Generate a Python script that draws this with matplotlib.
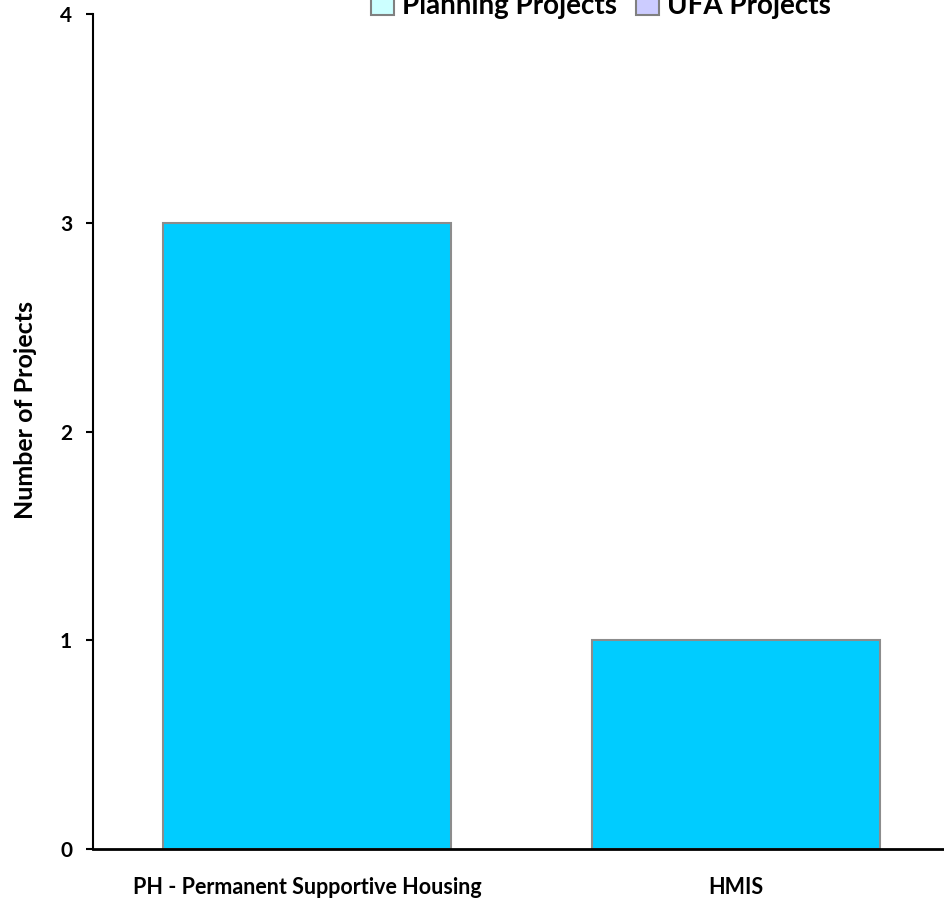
import matplotlib
matplotlib.use("Agg")
import matplotlib.pyplot as plt
from matplotlib.patches import Patch

categories = ["PH - Permanent Supportive Housing", "HMIS"]
values = [3, 1]
legend_labels = ["Planning Projects", "UFA Projects"]
legend_colors = ["#CCFFFF", "#CCCCFF"]
yticks = [0, 1, 2, 3, 4]

plt.rcParams['font.family'] = ['Lato', 'DejaVu Sans']

fig = plt.figure(figsize=(9.44, 9.01), dpi=100)
ax = fig.add_axes([93/944, 1-849/901, (950-93)/944, (849-14)/901])

x = list(range(len(categories)))
ax.bar(x, values, width=0.673, color="#00CCFF", edgecolor="#8C8C8C", linewidth=1.5, zorder=2)

ax.set_xlim(-0.5, 1.5)
ax.set_ylim(0, 4)
ax.set_yticks(yticks)
ax.set_yticklabels([str(t) for t in yticks], fontsize=15, fontweight='bold')
ax.set_xticks(x)
ax.set_xticklabels(categories, fontsize=15.5, fontweight='bold')
ax.tick_params(axis='x', length=0, pad=20)
ax.tick_params(axis='y', length=5, width=1.5, pad=10, direction='out')
ax.spines['top'].set_visible(False)
ax.spines['right'].set_visible(False)
ax.spines['left'].set_linewidth(1.5)
ax.spines['bottom'].set_linewidth(2)
ax.set_ylabel("Number of Projects", fontsize=18, fontweight='bold')
ax.yaxis.set_label_coords(-0.065, 0.526)

handles = [Patch(facecolor=c, edgecolor="#808080", linewidth=1.5, label=l)
           for c, l in zip(legend_colors, legend_labels)]
fig.legend(handles=handles, loc='center', bbox_to_anchor=(601/944, 1-6/901), ncol=2,
           frameon=False, prop={'size': 20, 'weight': 'bold'},
           handlelength=0.8, handleheight=0.8, handletextpad=0.3, columnspacing=0.7)

fig.savefig("out.png", dpi=100)
